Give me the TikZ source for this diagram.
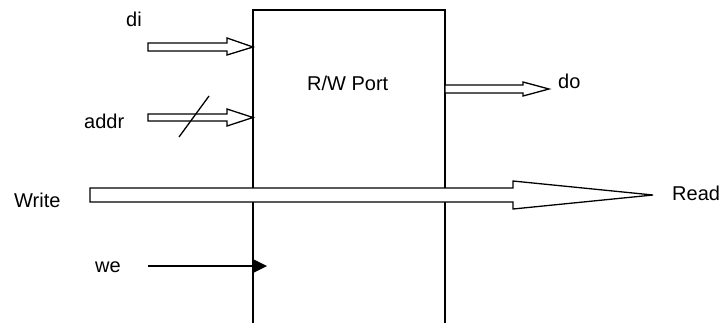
\documentclass[tikz,border=0pt]{standalone}
\usepackage{fontspec}
\setmainfont{Liberation Sans}
\begin{document}
\begin{tikzpicture}[x=1pt,y=-1pt,
  lbl/.style={inner sep=0pt,anchor=base west,font=\fontsize{20}{22}\selectfont},
  blockarrow/.style={draw=black,fill=white,line width=1.3pt,line join=miter},
  boxline/.style={draw=black,line width=2pt},
  thin/.style={draw=black,line width=1.3pt}]
\useasboundingbox (0,0) rectangle (722,322);
% port box (open at the bottom)
\draw[boxline] (253,330) -- (253,10) -- (445,10) -- (445,330);
% labels
\node[lbl] (di) at (126,26) {di};
\node[lbl] (addr) at (84,128) {addr};
\node[lbl] (port) at (307,90) {R/W Port};
\node[lbl] (do) at (558,88) {do};
\node[lbl] (write) at (14,207) {Write};
\node[lbl] (read) at (672,200) {Read};
\node[lbl] (we) at (95,272) {we};
% di bus arrow
\path[blockarrow] (148,43) -- (227,43) -- (227,38) -- (253,47) -- (227,55) -- (227,51) -- (148,51) -- cycle;
% addr bus arrow
\path[blockarrow] (148,114) -- (227,114) -- (227,109) -- (253,117.5) -- (227,126) -- (227,121) -- (148,121) -- cycle;
\draw[thin] (179,137) -- (209,96);
% do bus arrow
\path[blockarrow] (445,85) -- (523,85) -- (523,82) -- (549,89) -- (523,96) -- (523,93) -- (445,93) -- cycle;
% Write -> Read big arrow
\path[blockarrow] (90,188) -- (513,188) -- (513,181) -- (653,195) -- (513,209) -- (513,202) -- (90,202) -- cycle;
% we signal
\coordinate (wetip) at (267,266);
\draw[thin] (148,266) -- (254,266);
\fill[black] (253,259) -- (wetip) -- (253,273) -- cycle;
\end{tikzpicture}
\end{document}
